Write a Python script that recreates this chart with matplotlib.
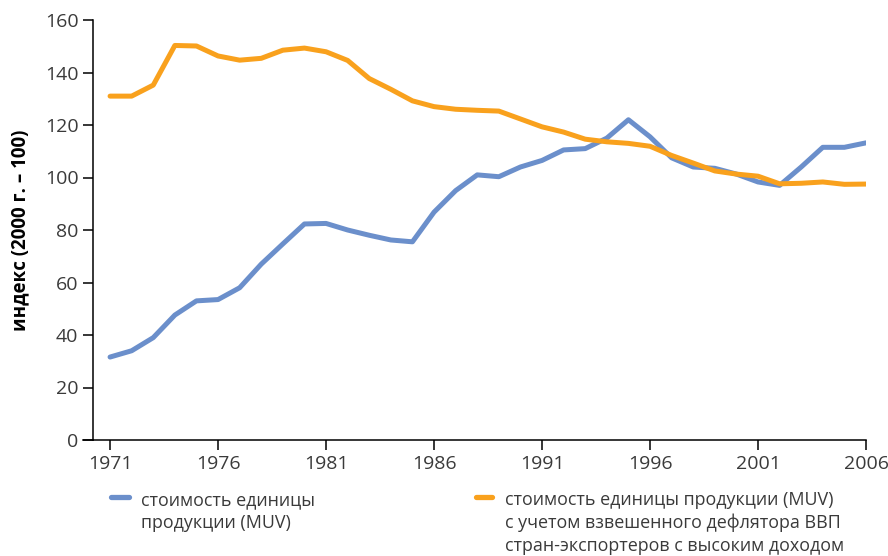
import matplotlib
matplotlib.use('Agg')
import matplotlib.pyplot as plt
from matplotlib.lines import Line2D

plt.rcParams['font.family'] = ['Open Sans', 'DejaVu Sans']

# data
years = list(range(1971, 2007))
muv = [31.6, 34.0, 39.0, 47.6, 53.0, 53.5, 58.0, 67.0, 74.7, 82.3,
       82.5, 80.0, 78.0, 76.2, 75.5, 86.8, 95.0, 101.0, 100.3, 104.0,
       106.5, 110.5, 111.0, 115.0, 122.0, 115.5, 107.5, 104.0, 103.5, 101.3,
       98.3, 97.0, 104.0, 111.5, 111.5, 113.2]
muv_defl = [131.0, 131.0, 135.2, 150.3, 150.1, 146.3, 144.7, 145.4, 148.5, 149.3,
            147.9, 144.6, 137.7, 133.6, 129.2, 127.0, 126.0, 125.6, 125.3, 122.3,
            119.3, 117.3, 114.6, 113.6, 113.0, 111.9, 108.4, 105.5, 102.5, 101.3,
            100.5, 97.6, 97.8, 98.3, 97.4, 97.5]
xticks = [1971, 1976, 1981, 1986, 1991, 1996, 2001, 2006]
yticks = [0, 20, 40, 60, 80, 100, 120, 140, 160]
label_muv = ['стоимость единицы', 'продукции (MUV)']
label_defl = ['стоимость единицы продукции (MUV)',
              'с учетом взвешенного дефлятора ВВП',
              'стран-экспортеров с высоким доходом']

blue = '#6b8fcb'
orange = '#f9a11d'
txt = '#3a3a3a'

fig = plt.figure(figsize=(8.88, 5.56), dpi=100)
ax = fig.add_axes([93/888, 1-440/556, (866-93)/888, (440-20)/556])

ax.plot(years, muv, color=blue, lw=3.6, solid_capstyle='round', solid_joinstyle='round')
ax.plot(years, muv_defl, color=orange, lw=3.6, solid_capstyle='round', solid_joinstyle='round')

ax.set_xlim(1970.21, 2006)
ax.set_ylim(0, 160)
ax.set_xticks(xticks)
ax.set_yticks(yticks)
for s in ['top', 'right']:
    ax.spines[s].set_visible(False)
for s in ['left', 'bottom']:
    ax.spines[s].set_linewidth(1.1)
    ax.spines[s].set_color('black')
ax.tick_params(axis='both', direction='out', length=7.5, width=1.1,
               labelsize=14, labelcolor=txt)
ax.tick_params(axis='y', pad=3)
ax.tick_params(axis='x', pad=3)
# x axis line sticks out a bit to the left of the y axis
ax.add_line(Line2D([1969.75, 1970.21], [0, 0], color='black', lw=1.1, clip_on=False))

fig.text(20/888, 1-230/556, 'индекс (2000 г. – 100)', rotation=90, ha='center', va='center',
         fontsize=13.5, fontweight='bold', color='black')

# legend, drawn by hand (one text per line)
fig.add_artist(Line2D([111/888, 129/888], [1-497/556, 1-497/556], color=blue, lw=3.8,
                      solid_capstyle='round'))
fig.add_artist(Line2D([476/888, 492/888], [1-497/556, 1-497/556], color=orange, lw=3.8,
                      solid_capstyle='round'))
baselines = [505, 528, 551]
for i, line in enumerate(label_muv):
    fig.text(141/888, 1-baselines[i]/556, line, ha='left', va='baseline',
             fontsize=12.9, color=txt)
for i, line in enumerate(label_defl):
    fig.text(505/888, 1-baselines[i]/556, line, ha='left', va='baseline',
             fontsize=12.9, color=txt)

fig.savefig('out.png', dpi=100)
